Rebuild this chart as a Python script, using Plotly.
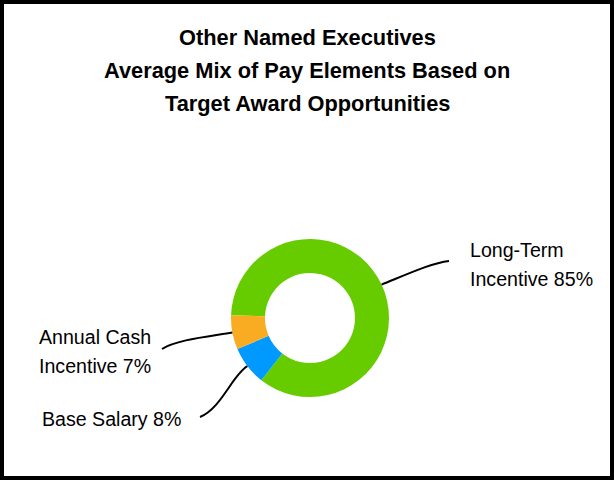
import math
import plotly.graph_objects as go

# ---- data ----
categories = ["Long-Term<br>Incentive", "Base Salary", "Annual Cash<br>Incentive"]
values = [85, 8, 7]
colors = ["#66CC00", "#0099FF", "#F9AB21"]
title_lines = ["Other Named Executives", "Average Mix of Pay Elements Based on", "Target Award Opportunities"]

W, H = 614, 480
CX, CY, R = 310, 318, 79
HOLE = 0.57
ROT = 272

FONT = "Liberation Sans, Arial, sans-serif"

fig = go.Figure()
fig.add_trace(go.Pie(
    labels=categories, values=values, sort=False, direction="clockwise",
    rotation=ROT, hole=HOLE, textinfo="none", hoverinfo="label+percent",
    marker=dict(colors=colors, line=dict(width=0)),
    domain=dict(x=[(CX - R) / W, (CX + R) / W], y=[1 - (CY + R) / H, 1 - (CY - R) / H]),
    showlegend=False,
))

def px(x):
    return x / W

def py(y):
    return 1 - y / H

total = sum(values)
cum = 0
mids = []
for v in values:
    frac = (cum + v / 2) / total
    theta = math.radians(90 - (ROT + frac * 360))
    mids.append((CX + R * math.cos(theta), CY - R * math.sin(theta)))
    cum += v

# label layout: left x, first-line centre y; line spacing
label_pos = [(468, 250), (40, 419), (37, 337)]
LINE_GAP = 28.5
leader = [
    # (ctrl1, ctrl2, end)
    ((410, 273), (432, 263), (449, 261)),
    ((233, 374), (221, 409), (200, 417)),
    ((205, 337), (176, 340), (162, 349)),
]

shapes = []
for start, (c1, c2, end) in zip(mids, leader):
    path = "M {},{} C {},{} {},{} {},{}".format(
        px(start[0]), py(start[1]), px(c1[0]), py(c1[1]),
        px(c2[0]), py(c2[1]), px(end[0]), py(end[1]))
    shapes.append(dict(type="path", xref="paper", yref="paper", path=path,
                       line=dict(color="black", width=2)))

annotations = []
for i, (cat, v) in enumerate(zip(categories, values)):
    lines = "{} {}%".format(cat, v).split("<br>")
    for k, line in enumerate(lines):
        annotations.append(dict(
            x=px(label_pos[i][0]), y=py(label_pos[i][1] + k * LINE_GAP),
            xref="paper", yref="paper",
            xanchor="left", yanchor="middle", align="left", showarrow=False,
            text=line,
            font=dict(family=FONT, size=19.6, color="black"),
        ))

title_y = [37, 70.5, 103.5]
for t, yy in zip(title_lines, title_y):
    annotations.append(dict(
        x=0.5, y=py(yy), xref="paper", yref="paper",
        xanchor="center", yanchor="middle", showarrow=False,
        text="<b>{}</b>".format(t),
        font=dict(family=FONT, size=21.8, color="black"),
    ))

# border
shapes.append(dict(type="rect", xref="paper", yref="paper",
                   x0=2 / W, x1=(W - 2) / W, y0=2 / H, y1=(H - 2) / H,
                   line=dict(color="black", width=4)))

fig.update_layout(
    width=W, height=H,
    margin=dict(l=0, r=0, t=0, b=0),
    paper_bgcolor="white", plot_bgcolor="white",
    shapes=shapes, annotations=annotations,
)

fig.write_html("out.html", config={"displayModeBar": False},
               post_script="document.body.style.margin='0';document.body.style.overflow='hidden';")
